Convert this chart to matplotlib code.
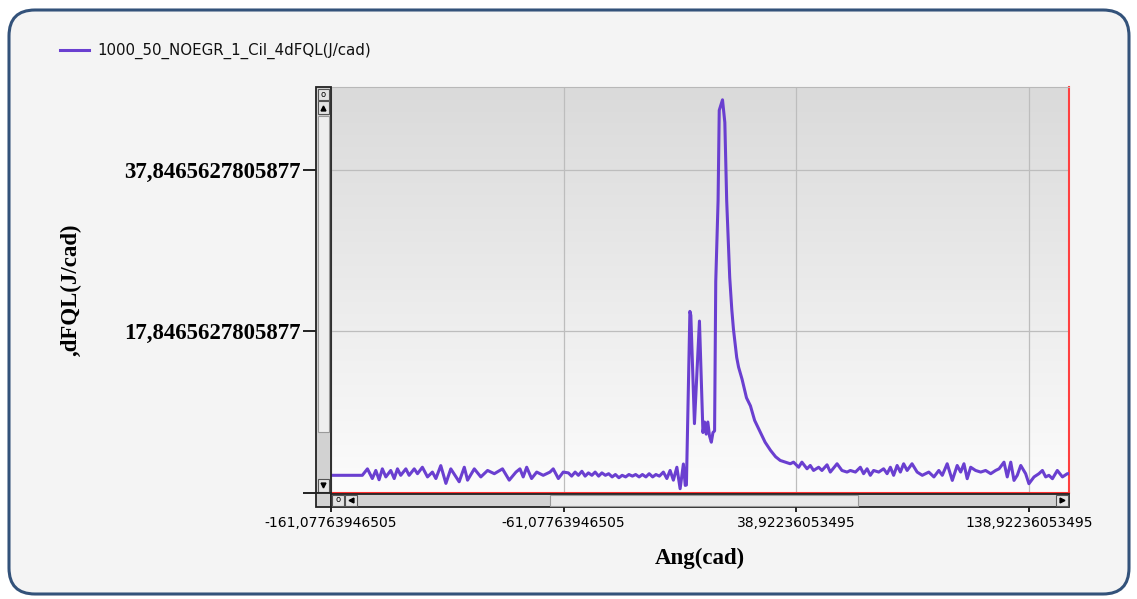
import numpy as np
import matplotlib
matplotlib.use("Agg")
import matplotlib.pyplot as plt
from matplotlib.patches import Rectangle, FancyBboxPatch
from matplotlib.colors import LinearSegmentedColormap

series_name = "1000_50_NOEGR_1_Cil_4dFQL(J/cad)"
x_title = "Ang(cad)"
y_title = ",dFQL(J/cad)"

x_ticks = [-161.07763946505, -61.07763946505, 38.92236053495, 138.92236053495]
x_tick_labels = ["-161,07763946505", "-61,07763946505", "38,92236053495", "138,92236053495"]
y_ticks = [-2.1534372194123, 17.8465627805877, 37.8465627805877]
y_tick_labels = ["", "17,8465627805877", "37,8465627805877"]
x_range = (-161.07763946505, 156.15)
y_range = (-2.1534372194123, 48.05)

# before combustion (noise around zero)
pre_ang = [-161.08, -147.5, -145.3, -143.2, -141.7, -140.3, -138.9, -137.4, -135.3, -133.8,
           -132.4, -131.0, -128.8, -127.4, -125.2, -123.8, -121.7, -119.5, -117.4, -115.9,
           -113.8, -111.6, -109.5, -105.9, -103.7, -102.3, -99.4, -96.6, -93.7, -90.8,
           -87.3, -84.4, -81.5, -79.8, -78.4, -76.9, -74.8, -72.6, -69.8, -66.9,
           -65.5, -63.3, -61.2, -59.0, -57.6, -56.1, -54.7, -53.2, -51.8, -50.4,
           -48.9, -47.5, -46.0, -44.6, -43.1, -41.7, -40.2, -38.8, -37.3, -35.9,
           -34.4, -33.0, -31.5, -30.1, -28.6, -27.2, -25.7, -24.3, -22.8, -21.4,
           -19.9, -18.2, -16.7, -15.3, -13.9, -12.4, -11.0, -9.6, -8.8]
pre_val = [0.0, 0.0, 0.8, -0.4, 0.6, -0.55, 0.8, -0.2, 0.6, -0.4,
           0.8, 0.0, 0.8, 0.0, 0.8, 0.2, 1.0, -0.2, 0.4, -0.4,
           1.2, -1.0, 0.8, -0.8, 1.0, -0.6, 0.8, -0.2, 0.6, 0.2,
           0.8, -0.6, 0.4, 0.8, -0.2, 1.0, -0.4, 0.4, 0.0, 0.4,
           0.8, -0.4, 0.4, 0.3, -0.1, 0.4, 0.0, 0.5, -0.1, 0.3,
           0.0, 0.4, -0.1, 0.3, 0.0, 0.2, -0.2, 0.1, -0.3, 0.0,
           -0.2, 0.1, -0.1, 0.1, -0.2, 0.1, -0.2, 0.2, -0.2, 0.1,
           -0.1, 0.4, -0.4, 0.6, -0.6, 1.0, -1.66, 1.4, -1.25]

# combustion
comb_ang = [-8.3, -6.8, -6.4, -4.85, -2.7, -1.2, -0.5, 0.2, 0.9, 1.6,
            2.4, 3.1, 3.8, 4.3, 5.3, 5.8, 7.2, 8.2, 9.0, 10.3,
            11.2, 11.9, 13.3, 14.1, 15.6, 17.5, 19.2, 21.0, 23.5, 25.5,
            27.8, 30.0]
comb_val = [-1.2, 20.3, 19.8, 6.4, 19.1, 5.3, 6.6, 5.1, 6.6, 4.9,
            4.1, 5.3, 5.5, 24.0, 34.0, 45.2, 46.5, 43.7, 34.0, 24.5,
            20.5, 18.1, 14.6, 13.4, 11.9, 9.6, 8.6, 6.8, 5.3, 4.1,
            3.1, 2.3]

# expansion
post_ang = [32.0, 34.2, 36.3, 37.7, 39.9, 41.3, 43.5, 44.9, 46.3, 48.5,
            49.9, 52.1, 53.5, 56.4, 58.5, 60.7, 62.1, 64.3, 66.4, 67.8,
            69.3, 70.7, 72.1, 74.3, 76.4, 77.9, 79.3, 80.7, 82.2, 83.6,
            85.0, 86.5, 88.6, 90.8, 93.0, 95.8, 98.0, 100.1, 101.6, 103.7,
            105.9, 108.0, 109.5, 110.9, 112.3, 113.8, 115.9, 118.1, 120.2, 122.4,
            124.5, 126.0, 128.1, 129.5, 131.0, 132.4, 133.8, 135.3, 137.4, 138.8,
            141.0, 143.1, 144.6, 146.0, 147.4, 148.9, 151.0, 153.2, 155.3, 156.3]
post_val = [1.84, 1.63, 1.43, 1.63, 1.0, 1.63, 0.81, 1.22, 0.6, 1.0,
            0.6, 1.3, 0.4, 1.43, 0.6, 0.4, 0.6, 0.4, 1.0, 0.2,
            0.81, 0.0, 0.6, 0.4, 0.81, 0.2, 1.0, 0.0, 1.22, 0.4,
            1.43, 0.6, 1.43, 0.4, 0.0, 0.4, -0.2, 0.6, 0.0, 1.43,
            -0.63, 1.22, 0.4, 1.43, -0.42, 1.0, 0.6, 0.4, 0.6, 0.2,
            0.6, 0.81, 1.63, -0.2, 1.63, -0.63, 0.0, 1.22, 0.2, -1.04,
            -0.2, 0.2, 0.6, -0.2, 0.0, -0.42, 0.6, -0.2, 0.2, 0.2]

ang = pre_ang + comb_ang + post_ang
dfql = pre_val + comb_val + post_val

W, H = 1137, 599
fig = plt.figure(figsize=(W / 100, H / 100), dpi=100)
fig.patch.set_facecolor("white")

# pixel geometry of the plot area
L, R, T, B = 330.7, 1069.3, 87.3, 492.7

# background panel
bg = fig.add_axes([0, 0, 1, 1], zorder=0)
bg.set_xlim(0, W)
bg.set_ylim(H, 0)
bg.axis("off")
bg.add_patch(FancyBboxPatch((9, 10), 1120, 584, boxstyle="round,pad=0,rounding_size=26",
                            fc="#f4f4f4", ec="#33527a", lw=2.2))

ax = fig.add_axes([L / W, 1 - B / H, (R - L) / W, (B - T) / H], zorder=1)
ax.patch.set_alpha(0)
grad = LinearSegmentedColormap.from_list("g", ["#fcfcfc", "#dadada"])
ax.imshow(np.linspace(0, 1, 256).reshape(-1, 1), extent=[0, 1, 0, 1], transform=ax.transAxes,
          cmap=grad, aspect="auto", origin="lower", zorder=0)

ax.plot(ang, dfql, color="#6a3fd0", lw=2.2, solid_joinstyle="round", zorder=3)

ax.set_xlim(*x_range)
ax.set_ylim(*y_range)
ax.set_xticks(x_ticks)
ax.set_xticklabels(x_tick_labels, fontsize=10, family="DejaVu Sans")
ax.set_yticks(y_ticks)
ax.set_yticklabels(y_tick_labels, fontsize=16.5, family="Liberation Serif", fontweight="bold")
ax.grid(True, color="#bdbdbd", lw=0.9)
ax.set_axisbelow(True)
ax.tick_params(axis="y", length=20, width=1.2, pad=2, color="black")
ax.tick_params(axis="x", length=14, width=1.2, pad=3, color="black")

for side in ["top", "left"]:
    ax.spines[side].set_color("#b8b8b8")
ax.spines["right"].set_color("#ff4040")
ax.spines["bottom"].set_color("#ff3030")
ax.spines["right"].set_linewidth(1.5)
ax.spines["bottom"].set_linewidth(1.5)

# foreground: scrollbars, legend, titles
fg = fig.add_axes([0, 0, 1, 1], zorder=2)
fg.set_xlim(0, W)
fg.set_ylim(H, 0)
fg.axis("off")


def box(x, y, w, h, fc="#e4e4e4", ec="#555555", lw=0.8):
    fg.add_patch(Rectangle((x, y), w, h, fc=fc, ec=ec, lw=lw))


# vertical scrollbar
box(316, T, 14.7, B - T, fc="#d2d2d2", ec="#222222", lw=1.3)
box(317.5, 89, 11.5, 11)
fg.text(323.2, 94.5, "o", fontsize=6, ha="center", va="center")
box(317.5, 101, 11.5, 13)
fg.plot(323.2, 107.5, marker="^", ms=3.5, color="black")
box(317.5, 116, 11.5, 316, fc="#eeeeee", ec="#9a9a9a")
box(317.5, 479, 11.5, 12.5)
fg.plot(323.2, 485, marker="v", ms=3.5, color="black")

# corner and horizontal scrollbar
box(316, B, 14.7, 14.5, fc="#d2d2d2", ec="#222222", lw=1.3)
box(L, B + 0.9, R - L, 13.6, fc="#d2d2d2", ec="#222222", lw=1.3)
box(332, 494.5, 12, 11)
fg.text(338, 500, "o", fontsize=6, ha="center", va="center")
box(345, 494.5, 12, 11)
fg.plot(351, 500, marker="<", ms=3.5, color="black")
box(550, 494.5, 308, 11, fc="#e9e9e9", ec="#9a9a9a")
box(1056, 494.5, 12, 11)
fg.plot(1062, 500, marker=">", ms=3.5, color="black")

# legend
fg.plot([60, 89], [50, 50], color="#6a3fd0", lw=2.2)
fg.text(97, 51, series_name, fontsize=10.8, family="DejaVu Sans", va="center", ha="left",
        color="#111111")

fg.text(700, 558, x_title, fontsize=16.5, family="Liberation Serif", fontweight="bold",
        ha="center", va="center")
fg.text(71, 290, y_title, fontsize=16.5, family="Liberation Serif", fontweight="bold",
        ha="center", va="center", rotation=90)

fig.savefig("out.png", dpi=100)
